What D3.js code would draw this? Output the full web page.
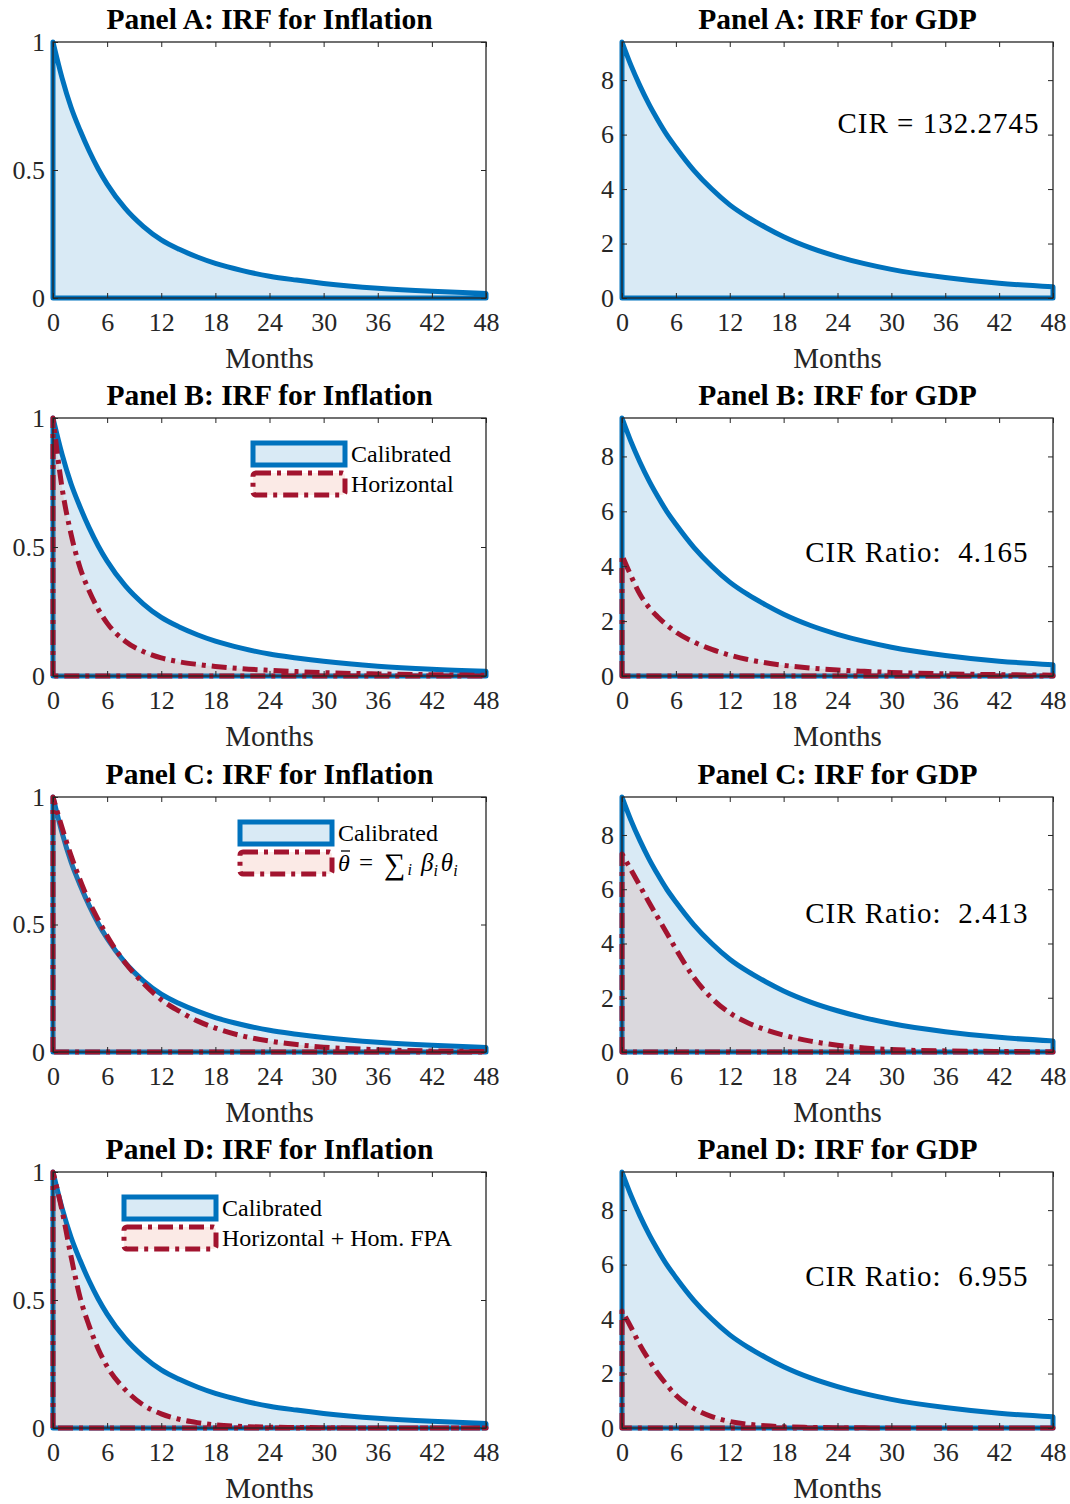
<!DOCTYPE html>
<html><head><meta charset="utf-8">
<script src="https://cdn.jsdelivr.net/npm/d3@7"></script>
<style>
body{margin:0;background:#fff}
text{font-family:"Liberation Serif","Times New Roman",serif}
</style>
</head><body>
<svg id="c" width="1070" height="1504"></svg>
<script>
// ---------------- data ----------------
const months = [0,1,2,3,4,5,6,8,10,12,14,16,18,21,24,27,30,36,42,48];
const xTicks = [0,6,12,18,24,30,36,42,48];
const inflTicks = [0,0.5,1];
const gdpTicks = [0,2,4,6,8];

const inflCalibrated = [1.0,0.86,0.745,0.655,0.575,0.505,0.445,0.35,0.28,0.227,0.19,0.16,0.135,0.107,0.085,0.07,0.057,0.038,0.026,0.018];
const inflHorizontal = [1.0,0.73,0.55,0.42,0.33,0.26,0.205,0.135,0.095,0.07,0.055,0.045,0.037,0.028,0.022,0.017,0.013,0.008,0.005,0.003];
const inflThetaBar   = [1.0,0.88,0.77,0.675,0.59,0.52,0.455,0.35,0.27,0.205,0.16,0.122,0.094,0.063,0.043,0.029,0.019,0.009,0.004,0.002];
const inflHorizFPA   = [1.0,0.85,0.67,0.51,0.40,0.31,0.24,0.15,0.09,0.055,0.034,0.021,0.012,0.006,0.003,0.002,0.001,0,0,0];

const gdpCalibrated = [9.4,8.54,7.79,7.12,6.53,5.99,5.53,4.69,4.0,3.42,2.97,2.59,2.25,1.84,1.52,1.26,1.05,0.75,0.54,0.41];
const gdpHorizontal = [4.4,3.65,2.98,2.5,2.15,1.85,1.6,1.24,0.97,0.76,0.6,0.48,0.39,0.29,0.22,0.17,0.13,0.08,0.05,0.03];
const gdpThetaBar   = [7.3,6.72,6.12,5.52,4.95,4.38,3.8,2.75,1.98,1.44,1.08,0.82,0.62,0.4,0.25,0.15,0.09,0.04,0.02,0.01];
const gdpHorizFPA   = [4.3,3.7,3.05,2.5,2.0,1.58,1.2,0.72,0.42,0.24,0.14,0.08,0.045,0.02,0.01,0.005,0.002,0,0,0];

const panelLetters = ['A','B','C','D'];
const inflAlt = [null, inflHorizontal, inflThetaBar, inflHorizFPA];
const gdpAlt = [null, gdpHorizontal, gdpThetaBar, gdpHorizFPA];
const legendBase = 'Calibrated';
const legendAlt = [null, 'Horizontal', 'THETA', 'Horizontal + Hom. FPA'];
const cirLabels = ['CIR = 132.2745', 'CIR Ratio:  4.165', 'CIR Ratio:  2.413', 'CIR Ratio:  6.955'];

// ---------------- layout ----------------
const colX = [53, 622], colW = [433, 431];
const rowTop = [42, 418, 797, 1172], rowH = [256, 258, 255, 256];
const legendLeft = [null, 253, 240, 124];
const cirPos = [{t:24, v:6.06}, {t:20.4, v:4.15}, {t:20.4, v:4.74}, {t:20.4, v:5.22}];

const BLUE = '#0072BD', RED = '#A2142F', AXC = '#262626';
const blueFill = {c: BLUE, o: 0.15};
const redFill = {c: 'rgb(230,114,85)', o: 0.15};
const redDash = '15,6,4,6';

const svg = d3.select('#c');
svg.append('rect').attr('width',1070).attr('height',1504).attr('fill','#fff');

function polyPath(x, y, vals) {
  const line = d3.line().x((d,i)=>x(months[i])).y(d=>y(d)).curve(d3.curveMonotoneX);
  const curve = line(vals).replace(/^M/, 'L');
  return `M${x(0)},${y(0)}` + curve + `L${x(48)},${y(0)}Z`;
}

function drawPanel(row, col) {
  const isInfl = col === 0;
  const w = colW[col], h = rowH[row];
  const g = svg.append('g').attr('transform', `translate(${colX[col]},${rowTop[row]})`);
  const x = d3.scaleLinear().domain([0,48]).range([0,w]);
  const y = d3.scaleLinear().domain(isInfl ? [0,1] : [0,9.4]).range([h,0]);
  const base = isInfl ? inflCalibrated : gdpCalibrated;
  const alt = isInfl ? inflAlt[row] : gdpAlt[row];

  g.append('path').attr('d', polyPath(x,y,base))
    .attr('fill', blueFill.c).attr('fill-opacity', blueFill.o)
    .attr('stroke', BLUE).attr('stroke-width', 5).attr('stroke-linejoin','round');
  if (alt) {
    g.append('path').attr('d', polyPath(x,y,alt))
      .attr('fill', redFill.c).attr('fill-opacity', redFill.o)
      .attr('stroke', RED).attr('stroke-width', 5).attr('stroke-dasharray', redDash)
      .attr('stroke-linejoin','round');
  }

  const yt = isInfl ? inflTicks : gdpTicks;
  const fmt = d => String(d);
  const ax = (gen, tr) => {
    const a = g.append('g').attr('transform', tr).call(gen);
    a.selectAll('path.domain').remove();
    a.selectAll('line').attr('stroke', AXC).attr('stroke-width', 1);
    a.selectAll('text').attr('font-family','Liberation Serif').attr('font-size', 26).attr('fill', AXC);
    return a;
  };
  ax(d3.axisBottom(x).tickValues(xTicks).tickFormat(fmt).tickSizeInner(-5).tickSizeOuter(0).tickPadding(15), `translate(0,${h})`);
  ax(d3.axisTop(x).tickValues(xTicks).tickFormat('').tickSizeInner(-5).tickSizeOuter(0), `translate(0,0)`);
  ax(d3.axisLeft(y).tickValues(yt).tickFormat(fmt).tickSizeInner(-5).tickSizeOuter(0).tickPadding(8), `translate(0,0)`);
  ax(d3.axisRight(y).tickValues(yt).tickFormat('').tickSizeInner(-5).tickSizeOuter(0), `translate(${w},0)`);
  g.append('rect').attr('x',0).attr('y',0).attr('width',w).attr('height',h)
    .attr('fill','none').attr('stroke',AXC).attr('stroke-width',1.3);

  g.append('text').attr('x', w/2).attr('y', -13).attr('text-anchor','middle')
    .attr('font-size', 29.5).attr('font-weight','bold').attr('fill','#000')
    .text(`Panel ${panelLetters[row]}: IRF for ${isInfl ? 'Inflation' : 'GDP'}`);
  g.append('text').attr('x', w/2).attr('y', h+70).attr('text-anchor','middle')
    .attr('font-size', 29).attr('fill', AXC).text('Months');

  if (!isInfl) {
    g.append('text').attr('x', x(cirPos[row].t)).attr('y', y(cirPos[row].v))
      .attr('font-size', 29).attr('letter-spacing', 1).style('white-space','pre')
      .attr('fill','#000').text(cirLabels[row]);
  }

  if (isInfl && row > 0) {
    const lx = legendLeft[row], ly = 25, pw = 92, ph = 22;
    const lg = g.append('g').attr('transform', `translate(${lx - colX[col]},${ly})`);
    lg.append('rect').attr('x',0).attr('y',0).attr('width',pw).attr('height',ph)
      .attr('fill', blueFill.c).attr('fill-opacity', blueFill.o)
      .attr('stroke', BLUE).attr('stroke-width', 5);
    lg.append('rect').attr('x',0).attr('y',30).attr('width',pw).attr('height',ph)
      .attr('fill', redFill.c).attr('fill-opacity', redFill.o)
      .attr('stroke', RED).attr('stroke-width', 5).attr('stroke-dasharray', redDash)
      .attr('stroke-linejoin','round').attr('rx', 3);
    lg.append('text').attr('x', pw+6).attr('y', 19).attr('font-size', 24).attr('fill','#000').text(legendBase);
    const tx = pw + 6, ty = 49;
    if (legendAlt[row] === 'THETA') {
      lg.append('text').attr('x', tx).attr('y', ty).attr('font-size', 24).attr('font-style','italic')
        .attr('fill','#000').text('\u03B8');
      lg.append('line').attr('x1', tx + 3).attr('x2', tx + 12).attr('y1', ty - 20).attr('y2', ty - 20)
        .attr('stroke', '#000').attr('stroke-width', 1.3);
      const t2 = lg.append('text').attr('x', tx + 21).attr('y', ty).attr('font-size', 25).attr('fill','#000');
      t2.append('tspan').text('=');
      t2.append('tspan').attr('dx', 11).attr('font-size', 30).attr('dy', 3).text('\u2211');
      t2.append('tspan').attr('font-style','italic').attr('font-size', 16).attr('dx', 2).attr('dy', 1).text('i');
      t2.append('tspan').attr('font-style','italic').attr('dy', -4).attr('dx', 9).text('\u03B2');
      t2.append('tspan').attr('font-style','italic').attr('font-size', 16).attr('dy', 5).text('i');
      t2.append('tspan').attr('font-style','italic').attr('dy', -5).attr('dx', 3).text('\u03B8');
      t2.append('tspan').attr('font-style','italic').attr('font-size', 16).attr('dy', 5).text('i');
    } else {
      lg.append('text').attr('x', tx).attr('y', ty).attr('font-size', 24).attr('fill','#000').text(legendAlt[row]);
    }
  }
}

for (let r = 0; r < 4; r++) for (let c = 0; c < 2; c++) drawPanel(r, c);
</script>
</body></html>
